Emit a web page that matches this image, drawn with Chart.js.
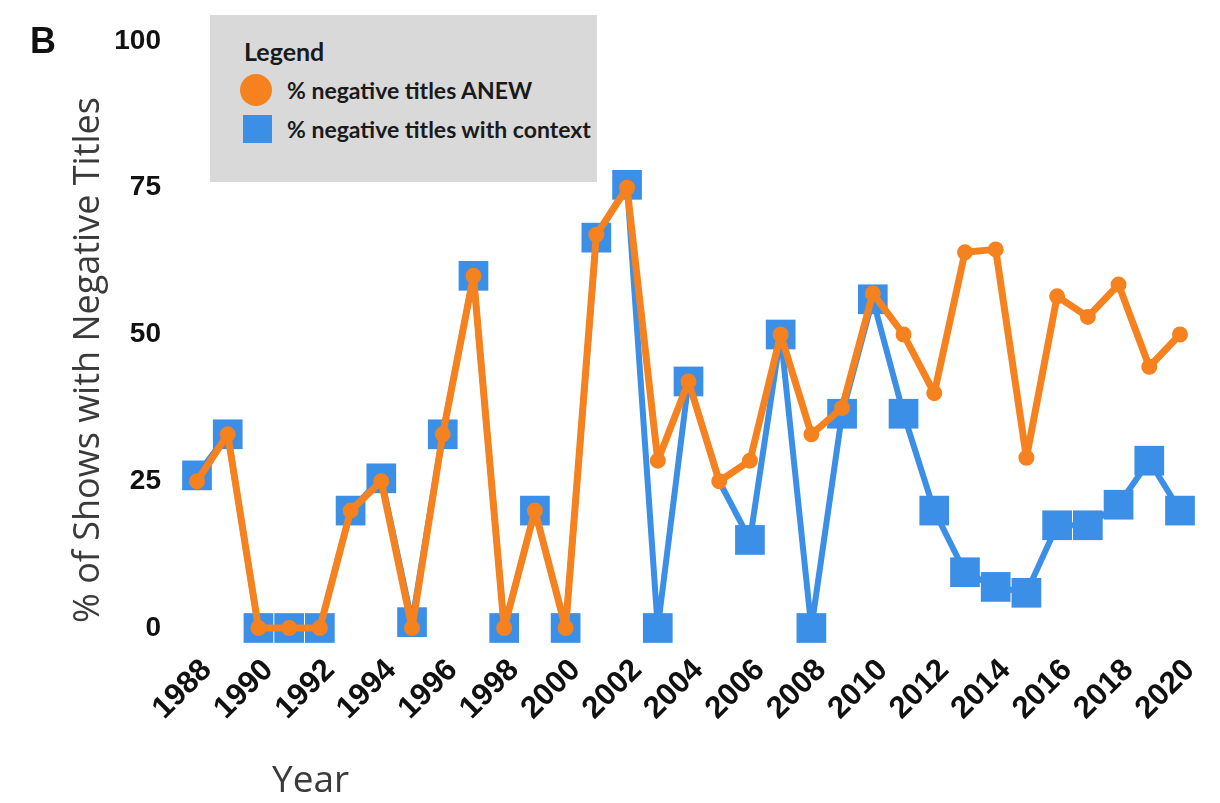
<!DOCTYPE html>
<html>
<head>
<meta charset="utf-8">
<script src="https://cdn.jsdelivr.net/npm/chart.js@4.4.1/dist/chart.umd.min.js"></script>
<style>
  html, body { margin: 0; padding: 0; background: #fff; }
  #wrap { position: relative; width: 1220px; height: 803px; overflow: hidden; }
  #grafico { position: absolute; left: 0; top: 0; }
  .panel { position: absolute; left: 30px; top: 20px; font: bold 36px "Liberation Sans", Arial, sans-serif; color: #111; }
  .eixo-x { position: absolute; left: 272px; top: 752px; font: 37px "Open Sans", sans-serif; color: #3a3a3a; }
  .eixo-y { position: absolute; left: -184px; top: 340px; width: 530px; height: 40px; line-height: 40px;
            text-align: center; white-space: nowrap; transform: rotate(-90deg); transform-origin: 50% 50%;
            font: 36px "Open Sans", sans-serif; color: #3a3a3a; }
  .legenda { position: absolute; left: 210px; top: 15px; width: 387px; height: 167px; background: #d9d9d9; font-family: Lato, sans-serif; font-weight: bold; color: #1a1a1a; }
  .legenda .titulo { position: absolute; left: 34px; top: 21px; font-size: 25px; }
  .legenda .item { position: absolute; left: 77px; font-size: 23px; white-space: nowrap; }
  .legenda .circulo { position: absolute; left: 30px; top: 59px; width: 32px; height: 32px; border-radius: 50%; background: #F5821F; }
  .legenda .quadrado { position: absolute; left: 33px; top: 100px; width: 29px; height: 28px; background: #3C8FE6; }
</style>
</head>
<body>
<div id="wrap">
  <canvas id="grafico" width="1220" height="803"></canvas>
  <div class="panel">B</div>
  <div class="eixo-y">% of Shows with Negative Titles</div>
  <div class="eixo-x">Year</div>
  <div class="legenda">
    <div class="titulo">Legend</div>
    <div class="circulo"></div>
    <div class="item" style="top:61px">% negative titles ANEW</div>
    <div class="quadrado"></div>
    <div class="item" style="top:100px">% negative titles with context</div>
  </div>
</div>
<script>
// anos do eixo x
const anos = [1988, 1989, 1990, 1991, 1992, 1993, 1994, 1995, 1996, 1997, 1998,
  1999, 2000, 2001, 2002, 2003, 2004, 2005, 2006, 2007, 2008, 2009, 2010,
  2011, 2012, 2013, 2014, 2015, 2016, 2017, 2018, 2019, 2020];

// % negative titles ANEW
const valoresAnew = [25, 33, 0, 0, 0, 20, 25, 0, 33, 60, 0,
  20, 0, 67, 75, 28.5, 42, 25, 28.5, 50, 33, 37.5, 57,
  50, 40, 64, 64.5, 29, 56.5, 53, 58.5, 44.5, 50];

// % negative titles with context
const valoresContexto = [26, 33, 0, 0, 0, 20, 25.5, 1, 33, 60, 0,
  20, 0, 66.5, 75.5, 0, 42, 25, 15, 50, 0, 36.5, 56,
  36.5, 20, 9.5, 7, 6, 17.5, 17.5, 21, 28.5, 20];

// anos em que a serie azul nao tem marcador visivel
const semMarcador = [2005];

const ticksY = [0, 25, 50, 75, 100];

const laranja = '#F5821F';
const azul = '#3C8FE6';

const ctx = document.getElementById('grafico');

new Chart(ctx, {
    type: 'line',
    data: {
        labels: anos.map(String),
        datasets: [{
            label: '% negative titles ANEW',
            data: valoresAnew,
            borderColor: laranja,
            backgroundColor: laranja,
            borderWidth: 7,
            borderJoinStyle: 'round',
            borderCapStyle: 'round',
            pointStyle: 'circle',
            pointRadius: 7,
            pointBorderWidth: 2,
            tension: 0,
            clip: false,
            order: 0
        }, {
            label: '% negative titles with context',
            data: valoresContexto,
            borderColor: azul,
            backgroundColor: azul,
            borderWidth: 6,
            borderJoinStyle: 'round',
            borderCapStyle: 'round',
            pointStyle: 'rect',
            pointRadius: (c) => semMarcador.includes(anos[c.dataIndex]) ? 0 : 21,
            pointBorderWidth: 0,
            tension: 0,
            clip: false,
            order: 1
        }]
    },
    options: {
        responsive: false,
        animation: false,
        layout: {
            autoPadding: false,
            padding: { left: 113, right: 40, top: 41, bottom: 35 } // area do grafico: 197..1180 x 41..628
        },
        plugins: {
            legend: { display: false },
            tooltip: { enabled: false }
        },
        scales: {
            x: {
                grid: { display: false, drawTicks: false },
                border: { display: false },
                afterFit: (eixo) => {
                    eixo.paddingLeft = 0;
                    eixo.paddingRight = 0;
                    eixo.height = 140;
                },
                ticks: {
                    autoSkip: false,
                    minRotation: 45,
                    maxRotation: 45,
                    padding: 24,
                    labelOffset: 10,
                    color: '#111',
                    font: { family: '"Liberation Sans", Arial, sans-serif', size: 31, weight: 'bold' },
                    callback: function (valor, i) {
                        return anos[i] % 2 === 0 ? String(anos[i]) : '';
                    }
                }
            },
            y: {
                min: 0,
                max: 100,
                afterBuildTicks: (eixo) => { eixo.ticks = ticksY.map(v => ({ value: v })); },
                afterFit: (eixo) => {
                    eixo.paddingTop = 0;
                    eixo.paddingBottom = 0;
                    eixo.width = 84;
                },
                grid: { display: false, drawTicks: false },
                border: { display: false },
                ticks: {
                    padding: 36,
                    color: '#111',
                    font: { family: '"Liberation Sans", Arial, sans-serif', size: 28, weight: 'bold' }
                }
            }
        }
    }
});
</script>
</body>
</html>
